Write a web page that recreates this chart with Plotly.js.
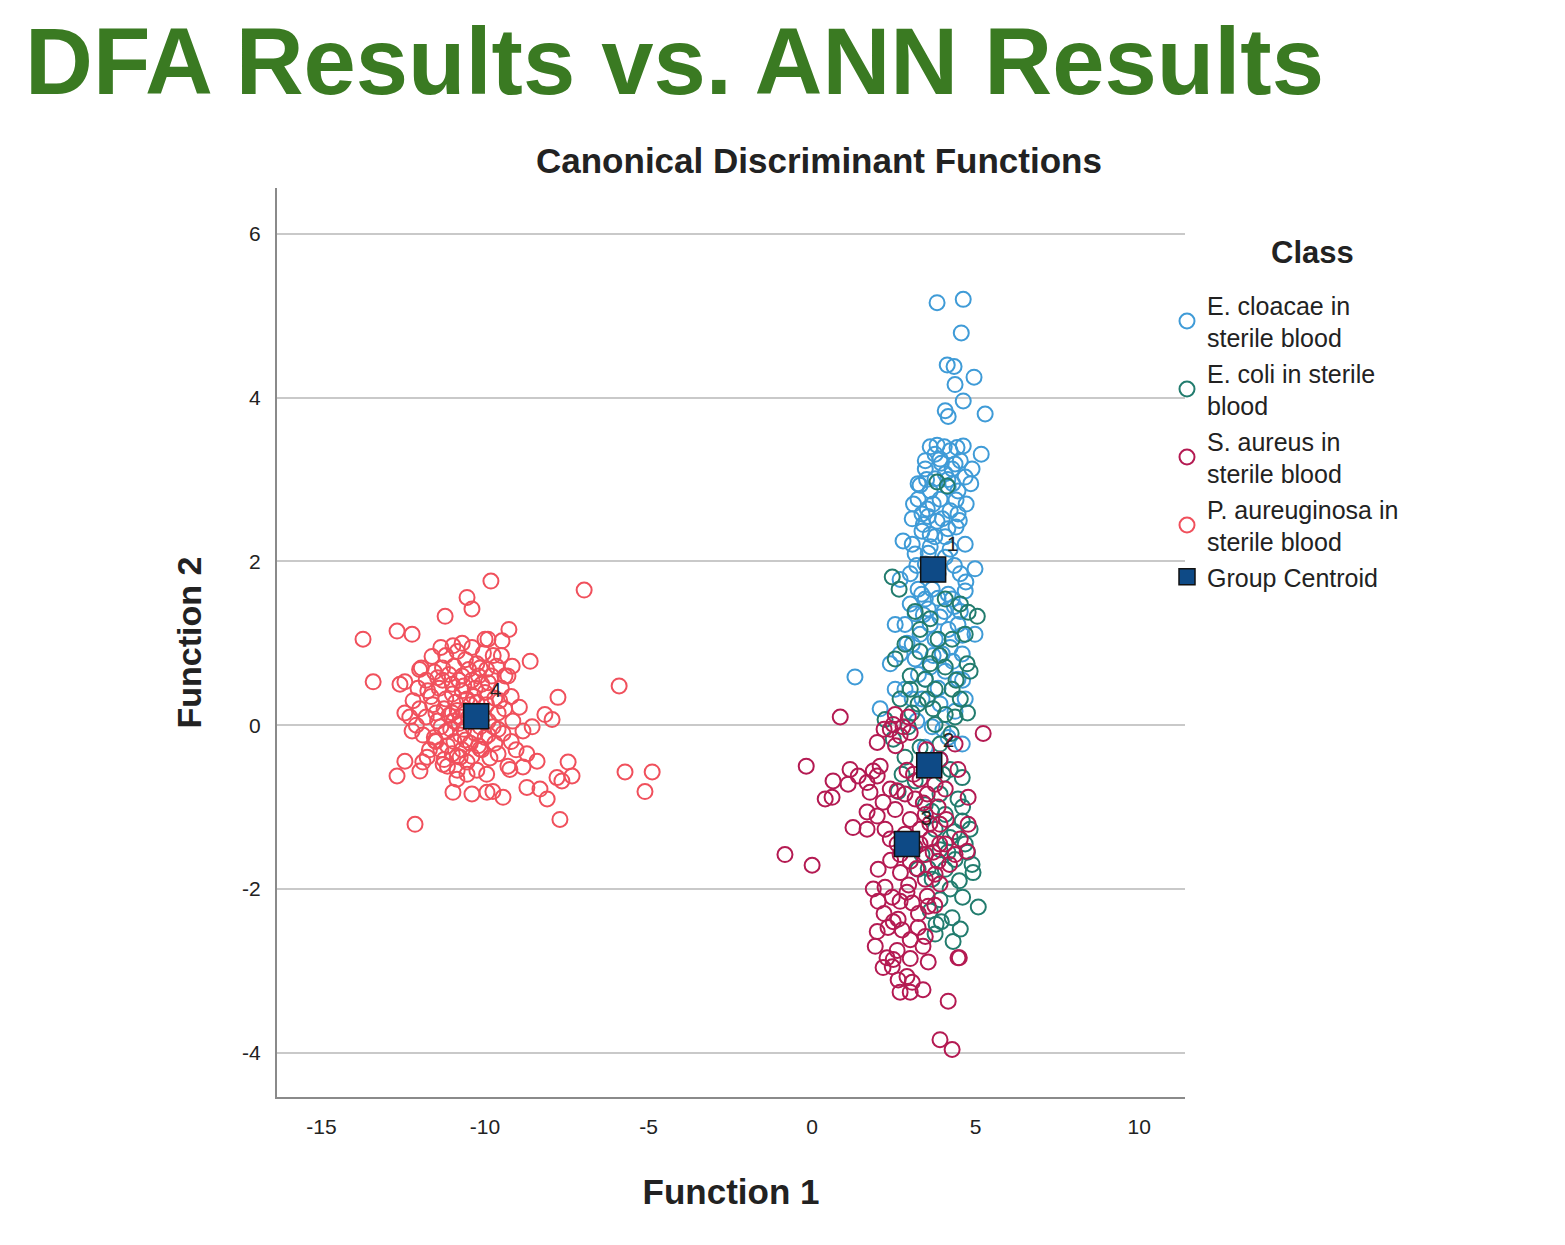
<!DOCTYPE html>
<html>
<head>
<meta charset="utf-8">
<script src="https://cdn.plot.ly/plotly-3.0.1.min.js"></script>
<style>html,body{margin:0;padding:0;background:#fff;}#chart{width:1565px;height:1245px;}</style>
</head>
<body>
<div id="chart"></div>
<script>
// ---- Data (Function 1, Function 2) ----
const classNames = ["E. cloacae in<br>sterile blood", "E. coli in sterile<br>blood", "S. aureus in<br>sterile blood", "P. aureuginosa in<br>sterile blood"];

const cloacaeX = [3.82,4.62,4.56,4.13,4.34,4.95,4.37,4.62,4.07,4.16,5.29,
 3.61,3.82,4.04,4.22,4.43,4.62,5.17,3.91,4.37,3.46,4.07,4.68,3.76,3.30,4.16,3.61,4.46,3.91,4.71,3.24,3.52,4.22,3.06,3.82,4.40,3.36,4.07,2.78,4.68,3.61,3.15,4.07,3.46,4.53,4.68,4.28,3.24,3.00,3.55,3.91,4.46,2.84,3.30,3.76,4.22,4.59,2.69,3.15,3.61,4.07,4.46,2.39,1.31,2.84,3.36,3.91,4.37,2.08,3.67,4.16,4.59,3.46,3.91,
 3.46,4.28,3.76,4.53,4.89,3.36,3.98,4.46,3.61,3.06,4.22,3.85,3.00,4.16,3.67,3.46,4.04,3.15,4.53,3.61,4.16,4.98,4.98,3.06,3.98,3.46,3.06,4.68,2.54,2.54,2.69,3.24,
 3.50,4.30,3.70,4.40,3.40,4.15,3.55,4.35,3.20,3.85,4.35,3.40,4.60,3.70,4.30,3.25,3.85,4.60,3.20,4.00,3.55,4.50,3.95,4.15,3.35,4.70,2.90,3.10,4.85,3.75];
const cloacaeY = [5.16,5.20,4.79,4.40,4.38,4.25,4.16,3.96,3.84,3.77,3.80,
 3.40,3.42,3.40,3.35,3.39,3.41,3.31,3.25,3.19,3.23,3.07,3.03,3.01,2.93,2.91,2.86,2.86,2.76,2.70,2.76,2.64,2.62,2.52,2.49,2.42,2.37,2.30,2.25,2.21,2.18,2.09,2.05,1.97,1.85,1.64,1.54,1.66,1.48,1.42,1.32,1.23,1.23,1.11,1.05,0.95,0.87,0.87,0.81,0.71,0.66,0.56,0.75,0.59,0.44,0.32,0.26,0.17,0.20,-0.02,-0.15,-0.23,-0.27,-0.42,
 3.13,3.13,3.31,3.23,3.13,2.58,2.52,2.58,2.33,2.21,2.15,1.85,1.85,1.60,1.66,1.54,1.39,1.36,1.39,1.23,1.17,1.91,1.11,0.99,0.87,0.56,0.32,0.32,0.44,1.23,1.78,2.95,
 3.00,2.95,2.70,2.75,2.45,2.40,2.10,1.95,1.95,1.55,1.45,1.35,1.10,0.85,0.78,0.62,0.45,0.55,0.05,-0.05,2.55,2.50,3.20,3.00,1.60,1.75,1.00,2.70,2.95,2.30];

const coliX = [2.45,2.66,4.77,5.05,4.83,4.53,4.07,3.61,3.15,3.30,3.85,4.28,4.68,3.82,4.13,3.61,4.07,3.46,3.76,4.28,3.00,2.69,3.24,4.07,4.37,3.76,2.94,2.48,3.30,3.91,2.84,3.61,4.22,4.59,3.15,2.63,3.91,4.46,3.46,4.07,4.59,4.83,3.76,4.22,4.68,3.91,4.37,4.89,4.92,4.07,3.67,4.22,3.91,4.28,5.08,3.79,4.31,3.76,4.53,3.61,3.24,3.36,3.52,4.53,4.74,2.84,2.54,2.23,
 3.30,3.90,4.40,3.05,3.70,4.25,3.45,4.00,4.60,3.65,4.35,4.75,4.15,3.55,4.50,3.95,4.60,3.00,4.75,2.75];
const coliY = [1.81,1.66,1.38,1.33,0.66,1.48,1.54,1.30,1.39,1.17,1.05,1.05,1.11,2.97,2.92,0.75,0.71,0.56,0.44,0.44,0.44,0.32,0.26,0.13,0.10,0.01,-0.02,-0.17,-0.27,-0.23,-0.39,-0.48,-0.54,-0.64,-0.68,-0.81,-0.84,-0.90,-0.97,-1.09,-1.17,-1.27,-1.27,-1.37,-1.45,-1.52,-1.64,-1.70,-1.80,-1.76,-1.88,-2.00,-2.13,-2.35,-2.22,-2.43,-2.64,-2.55,-2.49,-2.27,-1.76,-1.58,0.32,0.32,0.75,0.99,0.81,0.07,
 0.90,0.85,0.55,0.15,0.20,-0.10,-0.55,-0.60,-1.00,-1.05,-1.30,-1.55,-1.55,-1.75,-1.90,-2.40,-2.10,0.60,0.15,-0.60];

const aureusX = [0.86,-0.18,-0.83,0.00,5.23,4.77,4.74,3.91,4.28,4.16,4.46,
 1.16,0.64,0.40,0.61,1.10,1.41,1.68,1.87,2.08,1.99,1.77,1.68,1.25,1.68,1.99,2.17,1.99,
 2.48,2.78,3.00,2.69,2.39,2.54,2.94,
 3.30,3.76,3.52,4.07,3.15,3.85,3.46,3.00,3.91,3.30,2.84,3.61,3.15,4.07,2.69,3.46,3.85,3.00,4.37,4.53,4.77,2.39,2.23,2.54,2.84,2.39,3.91,4.37,4.46,
 1.87,2.02,2.23,2.45,2.69,2.90,3.06,3.52,3.55,2.48,2.63,2.32,1.99,1.93,3.00,3.24,3.46,3.39,3.55,2.29,2.48,2.17,2.45,2.63,2.90,3.06,2.69,3.00,3.39,4.50,
 2.02,3.76,3.91,3.46,
 3.10,3.60,3.30,2.60,3.90,3.20,2.70,2.40,3.70,4.20,2.95,3.25,2.75,2.20,3.75,3.40,2.90,2.55,2.20,2.60,4.10,3.50,3.00,2.60];
const aureusY = [0.10,-0.50,-1.58,-1.71,-0.10,-0.88,-1.54,-3.84,-3.96,-3.37,-2.84,
 -0.54,-0.68,-0.90,-0.88,-0.72,-0.62,-0.70,-0.56,-0.50,-0.62,-0.82,-1.06,-1.25,-1.27,-1.11,-0.94,-0.21,
 0.01,-0.02,-0.09,-0.13,-0.05,0.13,0.10,
 -0.66,-0.72,-0.84,-0.78,-0.90,-1.00,-1.09,-1.15,-1.21,-1.27,-1.33,-1.39,-1.49,-1.45,-1.58,-1.58,-1.66,-1.66,-1.58,-1.39,-1.21,-1.39,-1.27,-1.03,-0.84,-0.78,-0.42,-0.23,-0.54,
 -2.00,-2.15,-1.98,-2.10,-2.15,-2.04,-2.17,-2.09,-2.21,-2.40,-2.37,-2.47,-2.52,-2.70,-2.62,-2.47,-2.58,-2.70,-2.89,-2.84,-2.86,-2.96,-2.95,-3.11,-3.07,-3.14,-3.26,-3.26,-3.23,-2.84,
 -1.76,-1.82,-1.94,-1.88,
 -0.60,-1.20,-1.45,-1.45,-1.45,-1.75,-1.80,-1.65,-1.55,-1.70,-1.95,-2.30,-2.50,-2.30,-2.20,-0.95,-0.55,-0.25,-0.05,-0.80,-1.15,-0.30,-2.85,-2.75];

const aeruginosaX = [-13.73,-13.42,-12.69,-12.23,-12.60,-12.45,-11.22,-10.55,-10.40,-9.82,-6.97,-5.90,-9.27,-9.91,-9.48,-8.62,-11.62,-10.98,-12.00,-9.17,-9.39,
 -12.23,-12.45,-12.69,-11.99,-11.77,-11.28,-11.53,-10.76,-10.15,-10.86,-10.98,-10.40,-9.94,-9.45,-12.14,
 -7.77,-8.17,-7.95,-8.56,-8.84,-8.72,-8.41,-8.84,-9.24,-7.46,-7.34,-7.65,-7.80,-8.72,-8.32,-8.10,-7.71,-9.76,-5.72,-4.89,-5.11,
 -11.1,-10.8,-10.5,-10.2,-9.9,-11.4,-11.0,-10.7,-10.35,-10.0,-9.7,-11.6,-11.25,-10.9,-10.6,-10.45,-9.6,-11.8,-11.45,-11.1,-10.8,-10.65,-9.9,-9.75,-11.9,-11.55,-11.2,-10.95,-10.6,-10.3,-10.0,-9.7,-11.35,-11.0,-10.7,-10.4,-10.1,-9.85,-11.65,-11.3,-10.95,-10.6,-10.25,-9.95,-9.5,-9.4,-9.45,-9.6,-10.5,-10.2,-11.7,-12.0,-12.1,-11.8,-11.55,-10.85,-11.2,-10.4,-10.05,-9.75,-9.3,-9.2,-12.2,-12.3,-11.9,-11.15,-10.85,-10.25,-9.95,-9.3,-9.15,-8.95,-12.45,-11.0,-10.75,-10.3,-10.15,
 -11.3,-11.0,-10.7,-10.4,-10.1,-9.8,-11.5,-11.2,-10.85,-10.55,-10.25,-9.95,-11.35,-11.05,-10.75,-10.45,-10.2,-9.9,-11.5,-11.15,-10.85,-10.55,-9.6,-9.55,-10.65,-10.95,-11.75,-11.45,-10.15,-9.65,-10.55,-11.25,-12.05,-11.95,-11.35,-10.7,-10.0,-9.5,-9.2,-9.05];
const aeruginosaY = [1.05,0.53,1.15,1.11,0.50,0.53,1.33,1.56,1.42,1.76,1.65,0.48,1.17,1.05,1.03,0.78,0.84,0.97,0.68,0.72,0.60,
 -0.07,-0.44,-0.62,-0.56,-0.39,-0.48,-0.19,-0.39,-0.29,-0.66,-0.82,-0.84,-0.82,-0.88,-1.21,
 0.34,0.13,0.07,-0.02,-0.07,-0.35,-0.44,-0.51,-0.54,-0.45,-0.62,-0.68,-0.64,-0.76,-0.78,-0.90,-1.15,-0.81,-0.57,-0.57,-0.81,
 0.62,0.55,0.68,0.60,0.52,0.45,0.38,0.42,0.35,0.40,0.33,0.25,0.20,0.28,0.18,0.25,0.15,0.10,0.05,0.12,0.02,-0.05,0.05,-0.02,-0.12,-0.15,-0.08,-0.20,-0.18,-0.10,-0.15,-0.22,-0.30,-0.35,-0.30,-0.38,-0.30,-0.40,0.35,0.55,0.72,0.80,0.75,0.68,0.45,0.20,-0.10,-0.35,0.10,0.15,-0.30,0.20,0.00,0.55,0.65,0.90,0.85,0.95,0.88,0.85,0.60,0.35,0.30,0.10,-0.45,-0.50,-0.55,-0.55,-0.60,-0.50,0.05,0.22,0.15,0.15,0.10,0.45,-0.02,
 0.70,0.50,0.60,0.55,0.50,0.60,0.15,0.32,0.18,0.32,0.28,0.25,-0.02,-0.05,-0.12,-0.22,-0.25,-0.12,-0.20,-0.25,-0.38,-0.45,-0.05,0.30,0.48,0.05,0.42,0.58,0.70,0.72,-0.60,-0.42,0.45,0.70,0.95,1.00,1.05,0.85,-0.20,-0.30];

const centroidX = [3.70, 3.58, 2.90, -10.27];
const centroidY = [1.90, -0.49, -1.45, 0.11];
const centroidLabels = ["1", "2", "3", "4"];

const xTicks = [-15, -10, -5, 0, 5, 10];
const yTicks = [-4, -2, 0, 2, 4, 6];

// ---- Styles ----
const colors = ["#3f9bd7", "#227c6e", "#b41a52", "#f0505c"];
const FONT = "Liberation Sans, Arial, sans-serif";

function openTrace(x, y, name, color) {
  return {
    type: "scatter", mode: "markers", x: x, y: y, name: name,
    marker: { symbol: "circle-open", size: 15, color: color, line: { color: color, width: 2 } },
    hoverinfo: "x+y+name"
  };
}

const traces = [
  openTrace(cloacaeX, cloacaeY, classNames[0], colors[0]),
  openTrace(coliX, coliY, classNames[1], colors[1]),
  openTrace(aureusX, aureusY, classNames[2], colors[2]),
  openTrace(aeruginosaX, aeruginosaY, classNames[3], colors[3]),
  {
    type: "scatter", mode: "markers", x: centroidX, y: centroidY, name: "Group Centroid",
    marker: { symbol: "square", size: 25, color: "#0e4a86", line: { color: "#111", width: 1.5 } }
  },
  {
    type: "scatter", mode: "markers+text", x: centroidX, y: centroidY, text: centroidLabels,
    textposition: "top right", showlegend: false, hoverinfo: "skip",
    marker: { size: 20, opacity: 0, color: "#fff" },
    textfont: { family: FONT, size: 21, color: "#222" }
  }
];

const layout = {
  width: 1565, height: 1245,
  margin: { l: 277, r: 380, t: 188, b: 148 },
  paper_bgcolor: "#fff", plot_bgcolor: "#fff",
  font: { family: FONT, color: "#222" },
  title: {
    text: "<b>DFA Results vs. ANN Results</b>",
    font: { family: FONT, size: 94, color: "#3a7a22" },
    xref: "container", yref: "container",
    x: 25 / 1565, xanchor: "left", y: 1 - 61 / 1245, yanchor: "middle"
  },
  annotations: [{
    text: "<b>Canonical Discriminant Functions</b>",
    xref: "paper", yref: "paper", x: (819 - 277) / 908, y: (1097 - 160) / 909,
    xanchor: "center", yanchor: "middle", showarrow: false,
    font: { family: FONT, size: 35, color: "#222" }
  }, {
    text: "<b>Class</b>",
    xref: "paper", yref: "paper", x: (1312 - 277) / 908, y: (1097 - 252) / 909,
    xanchor: "center", yanchor: "middle", showarrow: false,
    font: { family: FONT, size: 31, color: "#222" }
  }],
  xaxis: {
    range: [-16.36, 11.4], tickvals: xTicks, ticktext: xTicks.map(String),
    showgrid: false, zeroline: false, showline: true, linecolor: "#8a8a8a", linewidth: 2,
    ticks: "", ticklabelstandoff: 10,
    tickfont: { family: FONT, size: 21, color: "#222" },
    title: { text: "<b>Function 1</b>", font: { family: FONT, size: 35, color: "#222" }, standoff: 42 }
  },
  yaxis: {
    range: [-4.54, 6.56], tickvals: yTicks, ticktext: yTicks.map(String),
    showgrid: true, gridcolor: "#c9c9c9", gridwidth: 2,
    zeroline: false, showline: true, linecolor: "#8a8a8a", linewidth: 2,
    ticks: "", ticklabelstandoff: 10,
    tickfont: { family: FONT, size: 21, color: "#222" },
    title: { text: "<b>Function 2</b>", font: { family: FONT, size: 34, color: "#222" }, standoff: 30 }
  },
  legend: {
    x: (1167 - 277) / 908, xanchor: "left", y: (1097 - 282) / 909, yanchor: "top",
    bgcolor: "rgba(0,0,0,0)", borderwidth: 0, tracegroupgap: 0,
    font: { family: FONT, size: 25, color: "#222" },
    itemwidth: 30
  },
  showlegend: true
};

Plotly.newPlot("chart", traces, layout, { displayModeBar: false, staticPlot: true });
</script>
</body>
</html>
